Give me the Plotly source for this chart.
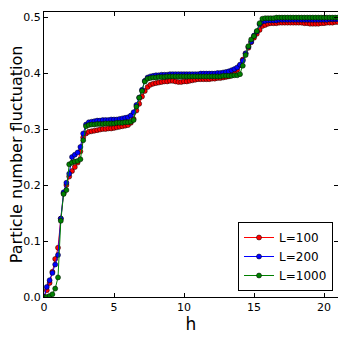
import plotly.graph_objects as go

# field values h (same grid for all system sizes)
h = [0.0, 0.2, 0.4, 0.6, 0.8, 1.0, 1.2, 1.4, 1.6, 1.8,
     2.0, 2.2, 2.4, 2.6, 2.8, 3.0, 3.2, 3.4, 3.6, 3.8,
     4.0, 4.2, 4.4, 4.6, 4.8, 5.0, 5.2, 5.4, 5.6, 5.8,
     6.0, 6.2, 6.4, 6.6, 6.8, 7.0, 7.2, 7.4, 7.6, 7.8,
     8.0, 8.2, 8.4, 8.6, 8.8, 9.0, 9.2, 9.4, 9.6, 9.8,
     10.0, 10.2, 10.4, 10.6, 10.8, 11.0, 11.2, 11.4, 11.6, 11.8,
     12.0, 12.2, 12.4, 12.6, 12.8, 13.0, 13.2, 13.4, 13.6, 13.8,
     14.0, 14.2, 14.4, 14.6, 14.8, 15.0, 15.2, 15.4, 15.6, 15.8,
     16.0, 16.2, 16.4, 16.6, 16.8, 17.0, 17.2, 17.4, 17.6, 17.8,
     18.0, 18.2, 18.4, 18.6, 18.8, 19.0, 19.2, 19.4, 19.6, 19.8,
     20.0, 20.2, 20.4, 20.6, 20.8, 21.0]

fluct_L100 = [0.0, 0.012, 0.025, 0.045, 0.068, 0.088, 0.140, 0.185, 0.200, 0.215,
              0.225, 0.232, 0.240, 0.260, 0.285, 0.292, 0.295, 0.296, 0.297, 0.298,
              0.299, 0.300, 0.300, 0.301, 0.301, 0.302, 0.303, 0.304, 0.305, 0.306,
              0.307, 0.311, 0.318, 0.333, 0.345, 0.358, 0.368, 0.375, 0.379, 0.381,
              0.382, 0.383, 0.384, 0.385, 0.385, 0.386, 0.386, 0.385, 0.384, 0.384,
              0.385, 0.385, 0.386, 0.387, 0.388, 0.389, 0.389, 0.389, 0.389, 0.389,
              0.390, 0.390, 0.391, 0.391, 0.392, 0.393, 0.394, 0.396, 0.400, 0.406,
              0.414, 0.424, 0.435, 0.445, 0.455, 0.463, 0.470, 0.477, 0.484, 0.486,
              0.488, 0.489, 0.489, 0.489, 0.490, 0.490, 0.490, 0.490, 0.490, 0.490,
              0.490, 0.490, 0.490, 0.489, 0.489, 0.488, 0.488, 0.488, 0.488, 0.489,
              0.489, 0.490, 0.490, 0.490, 0.491, 0.491]

fluct_L200 = [0.0, 0.018, 0.030, 0.043, 0.058, 0.075, 0.140, 0.187, 0.204, 0.220,
              0.250, 0.254, 0.258, 0.268, 0.292, 0.308, 0.312, 0.313, 0.314, 0.315,
              0.315, 0.316, 0.316, 0.316, 0.317, 0.317, 0.317, 0.318, 0.319, 0.320,
              0.321, 0.324, 0.330, 0.343, 0.356, 0.370, 0.386, 0.392, 0.394, 0.395,
              0.396, 0.396, 0.397, 0.397, 0.397, 0.398, 0.398, 0.398, 0.398, 0.398,
              0.398, 0.398, 0.398, 0.398, 0.398, 0.398, 0.399, 0.399, 0.399, 0.399,
              0.399, 0.399, 0.400, 0.400, 0.401, 0.402, 0.403, 0.405, 0.407, 0.410,
              0.415, 0.422, 0.435, 0.447, 0.456, 0.467, 0.474, 0.487, 0.492, 0.493,
              0.494, 0.494, 0.494, 0.494, 0.495, 0.495, 0.495, 0.495, 0.495, 0.495,
              0.495, 0.495, 0.495, 0.495, 0.495, 0.495, 0.495, 0.495, 0.495, 0.495,
              0.495, 0.495, 0.496, 0.496, 0.496, 0.496]

fluct_L1000 = [0.0, 0.0, 0.002, 0.005, 0.015, 0.035, 0.136, 0.184, 0.191, 0.237,
               0.240, 0.242, 0.243, 0.246, 0.280, 0.305, 0.307, 0.308, 0.308, 0.309,
               0.309, 0.309, 0.310, 0.310, 0.310, 0.310, 0.311, 0.311, 0.311, 0.312,
               0.312, 0.313, 0.316, 0.340, 0.356, 0.368, 0.385, 0.390, 0.391, 0.392,
               0.392, 0.393, 0.393, 0.393, 0.394, 0.394, 0.394, 0.394, 0.394, 0.394,
               0.394, 0.394, 0.394, 0.394, 0.394, 0.394, 0.394, 0.394, 0.394, 0.394,
               0.394, 0.394, 0.394, 0.394, 0.395, 0.395, 0.395, 0.395, 0.396, 0.396,
               0.398, 0.413, 0.432, 0.448, 0.460, 0.466, 0.475, 0.489, 0.497, 0.498,
               0.498, 0.498, 0.498, 0.499, 0.499, 0.499, 0.499, 0.499, 0.499, 0.499,
               0.499, 0.499, 0.499, 0.499, 0.499, 0.499, 0.499, 0.499, 0.499, 0.499,
               0.499, 0.499, 0.499, 0.499, 0.499, 0.499]

series = [('L=100', fluct_L100, '#ff0000'),
          ('L=200', fluct_L200, '#0000ff'),
          ('L=1000', fluct_L1000, '#008000')]

fig = go.Figure()
for name, ys, col in series:
    fig.add_trace(go.Scatter(
        x=h, y=ys, name=name,
        mode='lines+markers',
        line=dict(color=col, width=1),
        marker=dict(color=col, size=5, line=dict(color='black', width=0.5))
    ))

axis_style = dict(
    showgrid=False, zeroline=False, automargin=False,
    showline=True, linecolor='black', linewidth=1, mirror='allticks',
    ticks='inside', ticklen=4, tickcolor='black',
    tickfont=dict(family='DejaVu Sans', size=11, color='black'),
)

# the page body adds an 8px offset, so margins are shifted to compensate
fig.update_layout(
    width=346, height=346,
    margin=dict(l=36, r=16, t=4, b=57),
    plot_bgcolor='white',
    paper_bgcolor='white',
    font=dict(family='DejaVu Sans', color='black'),
    xaxis=dict(range=[0, 21], tickvals=[0, 5, 10, 15, 20],
               title=dict(text='h', font=dict(size=17), standoff=4), **axis_style),
    yaxis=dict(range=[0, 0.509], tickvals=[0, 0.1, 0.2, 0.3, 0.4, 0.5],
               ticktext=['0.0', '0.1', '0.2', '0.3', '0.4', '0.5'],
               **axis_style),
    legend=dict(x=0.983, y=0.021, xanchor='right', yanchor='bottom',
                bordercolor='black', borderwidth=1, bgcolor='white',
                itemwidth=30, font=dict(size=12)),
    showlegend=True
)

# y-axis label placed by hand
fig.add_annotation(
    text='Particle number fluctuation', textangle=-90,
    xref='paper', yref='paper', x=-0.093, y=0.5,
    xanchor='center', yanchor='middle', showarrow=False, borderpad=0,
    font=dict(size=16, family='DejaVu Sans', color='black')
)

fig.write_html("out.html")
